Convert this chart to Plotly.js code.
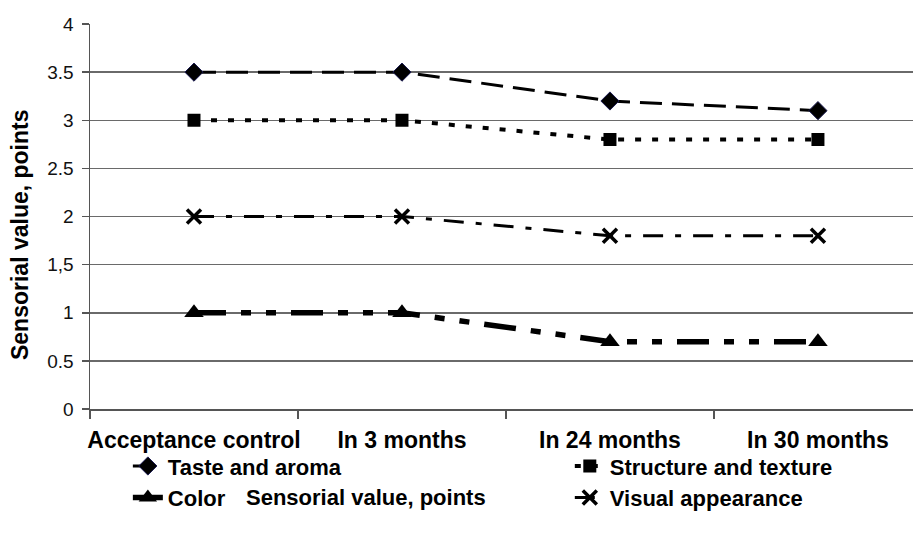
<!DOCTYPE html>
<html>
<head>
<meta charset="utf-8">
<script src="https://cdn.plot.ly/plotly-3.0.1.min.js"></script>
<style>html,body{margin:0;padding:0;background:#fff;}#chart{width:913px;height:540px;}</style>
</head>
<body>
<div id="chart"></div>
<script>
var categories = ["Acceptance control", "In 3 months", "In 24 months", "In 30 months"];
var tasteAroma = [3.5, 3.5, 3.2, 3.1];
var structureTexture = [3.0, 3.0, 2.8, 2.8];
var colorValues = [1.0, 1.0, 0.7, 0.7];
var visualAppearance = [2.0, 2.0, 1.8, 1.8];
var yTickVals = [0, 0.5, 1, 1.5, 2, 2.5, 3, 3.5, 4];
var yTickText = ["0", "0.5", "1", "1,5", "2", "2.5", "3", "3.5", "4"];
var yTitle = "Sensorial value, points";

var boldFont = {family: "Liberation Sans, Arial, sans-serif", size: 22, color: "#000", weight: "bold"};
var boldFont23 = {family: "Liberation Sans, Arial, sans-serif", size: 23, color: "#000", weight: "bold"};

var traces = [
  {x: categories, y: tasteAroma, name: "Taste and aroma", mode: "lines+markers", legend: "legend",
   line: {color: "#000", width: 3, dash: "22px,10px"},
   marker: {symbol: "diamond", size: 14, color: "#000", line: {color: "#1a1a50", width: 1}}},
  {x: categories, y: structureTexture, name: "Structure and texture", mode: "lines+markers", legend: "legend2",
   line: {color: "#000", width: 4, dash: "6px,11px"},
   marker: {symbol: "square", size: 13, color: "#000"}},
  {x: categories, y: colorValues, name: "Color", mode: "lines+markers", legend: "legend",
   line: {color: "#000", width: 5.5, dash: "32px,15px,10px,15px,10px,15px"},
   marker: {symbol: "triangle-up", size: 17, color: "#000"}},
  {x: categories, y: visualAppearance, name: "Visual appearance", mode: "lines+markers", legend: "legend2",
   line: {color: "#000", width: 3, dash: "20px,12px,6px,12px"},
   marker: {symbol: "x-thin", size: 14, color: "#000", line: {color: "#000", width: 3.5}}}
];

var layout = {
  width: 913, height: 540,
  margin: {l: 90, r: 0, t: 24, b: 131, autoexpand: false},
  paper_bgcolor: "#fff", plot_bgcolor: "#fff",
  showlegend: true,
  xaxis: {
    type: "category", range: [-0.5, 3.457],
    showgrid: false, zeroline: false,
    showline: true, linecolor: "#555", linewidth: 1.5,
    ticks: "outside", tickson: "boundaries", ticklen: 8, tickcolor: "#555", tickwidth: 1.5,
    tickangle: 0, automargin: false,
    tickfont: boldFont23, ticklabelstandoff: 10
  },
  yaxis: {
    range: [0, 4], tickvals: yTickVals, ticktext: yTickText,
    showgrid: true, gridcolor: "#6a6a6a", gridwidth: 1.5, zeroline: false,
    showline: true, linecolor: "#555", linewidth: 1.5,
    ticks: "outside", ticklen: 7, tickcolor: "#555", tickwidth: 1.5,
    tickfont: {family: "Liberation Sans, Arial, sans-serif", size: 19, color: "#111"},
    ticklabelstandoff: 4
  },
  legend: {
    orientation: "v", x: 0.046, xanchor: "left", y: -0.094, yanchor: "top",
    tracegroupgap: 0, itemwidth: 30,
    font: boldFont, bgcolor: "rgba(0,0,0,0)"
  },
  legend2: {
    orientation: "v", x: 0.583, xanchor: "left", y: -0.094, yanchor: "top",
    tracegroupgap: 0, itemwidth: 30,
    font: boldFont, bgcolor: "rgba(0,0,0,0)"
  },
  annotations: [
    {text: yTitle, xref: "paper", yref: "paper", x: -0.085, y: 0.452, xanchor: "center", yanchor: "middle",
     textangle: -90, showarrow: false, font: boldFont23},
    {text: yTitle, xref: "paper", yref: "paper", x: 0.335, y: -0.229, xanchor: "center", yanchor: "middle",
     showarrow: false, font: boldFont}
  ]
};

Plotly.newPlot("chart", traces, layout, {displayModeBar: false, staticPlot: true});
</script>
</body>
</html>
